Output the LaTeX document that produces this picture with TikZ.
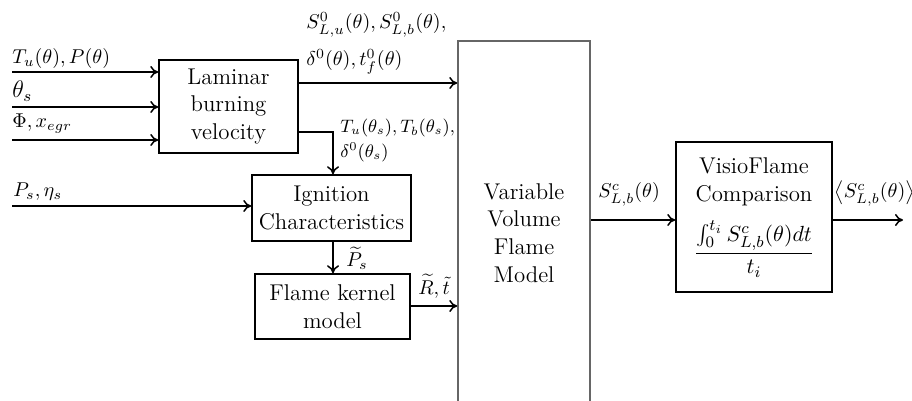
\documentclass[tikz,border=0pt]{standalone}
\usetikzlibrary{arrows.meta}
\begin{document}
\begin{tikzpicture}[x=0.5pt,y=-0.5pt,
  every node/.style={font=\fontsize{11.4}{13.8}\selectfont},
  blk/.style={draw,line width=0.75pt,inner sep=0pt,align=center},
  arr/.style={line width=0.75pt,-{To[length=4pt,width=6pt]}},
  lbl/.style={anchor=base west,inner sep=0pt,font=\fontsize{10}{12}\selectfont}]
\clip (0,0) rectangle (912,401);
% blocks
\node[blk,minimum width=69.5pt,minimum height=46.5pt] (lam) at (228.5,106.5) {Laminar\\burning\\velocity};
\node[blk,minimum width=79.5pt,minimum height=33pt] (ign) at (331.5,208) {Ignition\\Characteristics};
\node[blk,minimum width=77.5pt,minimum height=32.5pt] (fk) at (332.5,306.5) {Flame kernel\\model};
\node[blk,draw=gray!80!black,minimum width=66pt,minimum height=189.5pt] (vv) at (524,230.5) {};
\node[align=center] (vvt) at (524,233) {Variable\\Volume\\Flame\\Model};
\node[blk,minimum width=78pt,minimum height=75pt] (vf) at (754,217) {};
\node[align=center] (vft) at (754,182) {VisioFlame\\Comparison};
\node (vff) at (754,249) {$\displaystyle\frac{\int_0^{t_i} S^c_{L,b}(\theta)dt}{t_i}$};
% free ends
\coordinate (i1) at (12,72);
\coordinate (i2) at (12,107);
\coordinate (i3) at (12,140);
\coordinate (i4) at (12,206);
\coordinate (o1) at (0,83);
\coordinate (k) at (333,132);
\coordinate (o2) at (0,306);
\coordinate (o3) at (0,220);
\coordinate (e) at (903,220);
% connectors
\draw[arr] (i1) -- (i1 -| lam.west);
\draw[arr] (i2) -- (i2 -| lam.west);
\draw[arr] (i3) -- (i3 -| lam.west);
\draw[arr] (i4) -- (i4 -| ign.west);
\draw[arr] (lam.east |- o1) -- (vv.west |- o1);
\draw[arr] (lam.east |- k) -| (k |- ign.north);
\draw[arr] (k |- ign.south) -- (k |- fk.north);
\draw[arr] (fk.east |- o2) -- (vv.west |- o2);
\draw[arr] (vv.east |- o3) -- (vf.west |- o3);
\draw[arr] (vf.east |- e) -- (e);
% labels
\node[lbl] (l1) at (12,64) {$T_u(\theta),P(\theta)$};
\node[lbl,font=\fontsize{12}{14}\selectfont] (l2) at (12,98) {$\theta_s$};
\node[lbl] (l3) at (12,128) {$\Phi,x_{egr}$};
\node[lbl] (l4) at (306,29) {$S^0_{L,u}(\theta),S^0_{L,b}(\theta),$};
\node[lbl] (l5) at (306,66) {$\delta^0(\theta),t^0_f(\theta)$};
\node[lbl,font=\fontsize{8.8}{11}\selectfont] (l6) at (340,133) {$T_u(\theta_s),T_b(\theta_s),$};
\node[lbl,font=\fontsize{8.8}{11}\selectfont] (l7) at (340,158) {$\delta^0(\theta_s)$};
\node[lbl] (l8) at (13,197) {$P_s,\eta_s$};
\node[lbl] (l9) at (346,267) {$\widetilde{P}_s$};
\node[lbl] (l10) at (418,294) {$\widetilde{R},\tilde{t}$};
\node[lbl] (l11) at (598,198) {$S^c_{L,b}(\theta)$};
\node[lbl] (l12) at (834,198) {$\bigl\langle S^c_{L,b}(\theta)\bigr\rangle$};
\end{tikzpicture}
\end{document}
